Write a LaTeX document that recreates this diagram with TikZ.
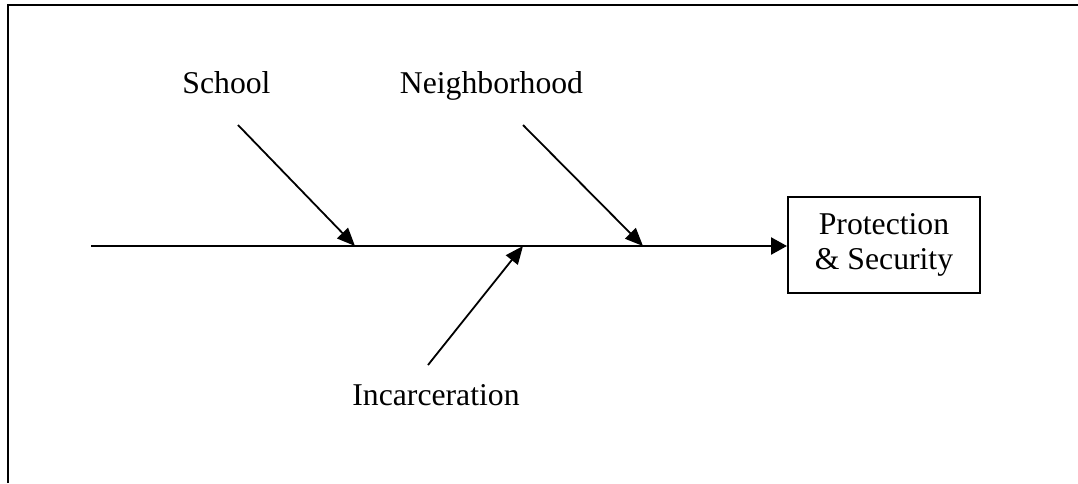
\documentclass[tikz,border=0pt]{standalone}
\usepackage{fontspec}
\setmainfont{Liberation Serif}
\usetikzlibrary{arrows.meta}
\begin{document}
\begin{tikzpicture}[x=0.5pt,y=-0.5pt,
  lbl/.style={font=\fontsize{15.85}{17.5}\selectfont, inner sep=0pt, anchor=base},
  bone/.style={line width=0.9pt, -{Triangle[length=9pt,width=7.5pt]}},
  spine/.style={line width=1.2pt, -{Triangle[length=8pt,width=8.5pt]}},
  effect/.style={draw, line width=1pt, minimum width=96pt, minimum height=48pt, inner sep=0pt, align=center, font=\fontsize{15.85}{17.5}\selectfont}]
\useasboundingbox (0,0) rectangle (1078,483);
% frame
\draw[line width=1.3pt] (8,483) -- (8,5) -- (1078,5);
% effect box
\node[effect] (pbox) at (884,245) {Protection\\\& Security};
% labels
\node[lbl] (school) at (226.5,93) {School};
\node[lbl] (neigh) at (491.5,93) {Neighborhood};
\node[lbl] (incar) at (436,405) {Incarceration};
% spine
\coordinate (sp0) at (91,246);
\coordinate (s1) at (355,246);
\coordinate (s2) at (643,246);
\coordinate (s3) at (523,246);
\coordinate (a1) at (238,125);
\coordinate (a2) at (523,125);
\coordinate (a3) at (428,365);
\draw[spine] (sp0) -- (pbox.west |- sp0);
\draw[bone] (a1) -- (s1);
\draw[bone] (a2) -- (s2);
\draw[bone] (a3) -- (s3);
\end{tikzpicture}
\end{document}
